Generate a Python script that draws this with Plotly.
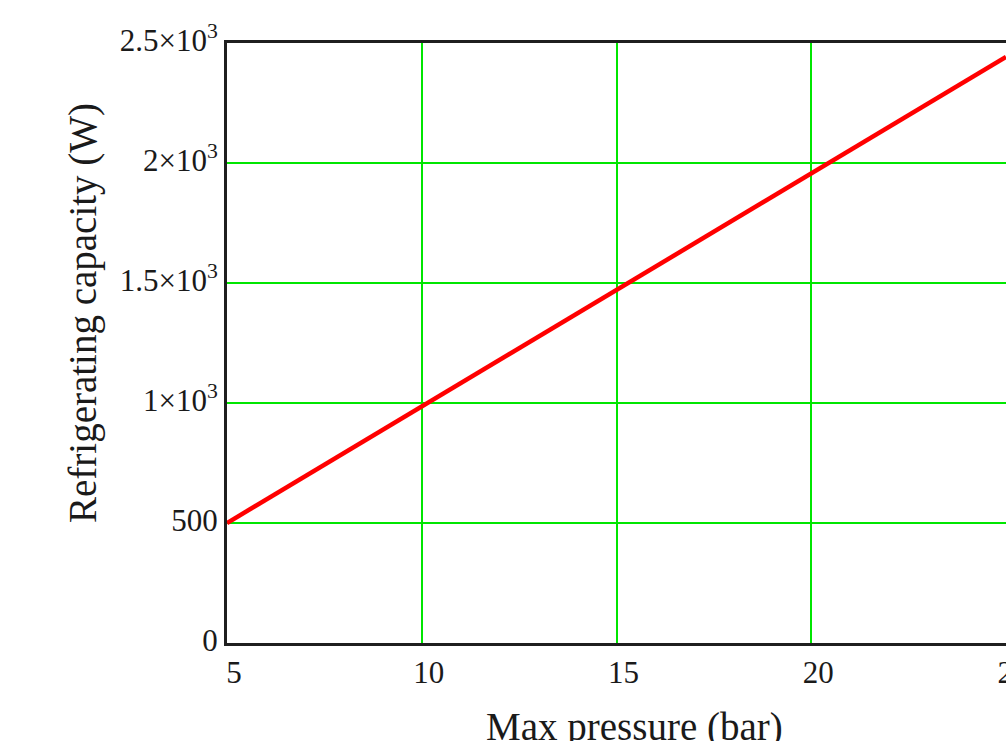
import plotly.graph_objects as go

# Data
pressure_bar = [5, 10, 15, 20, 25]
capacity_w = [500, 985, 1470, 1955, 2442]

x_ticks = [5, 10, 15, 20, 25]
x_ticktext = ["5", "10", "15", "20", "25"]
y_ticks = [0, 500, 1000, 1500, 2000, 2500]
y_ticktext = ["0", "500", "1×10<sup>3</sup>", "1.5×10<sup>3</sup>", "2×10<sup>3</sup>", "2.5×10<sup>3</sup>"]

FONT = "Liberation Serif, Times New Roman, serif"
GRID = "#00e600"
AXIS = "#1f1f1f"
TXT = "#1a1a1a"

fig = go.Figure()
fig.add_trace(go.Scatter(x=pressure_bar, y=capacity_w, mode="lines",
                         line=dict(color="#ff0000", width=4.5), showlegend=False))

fig.update_layout(
    width=1006, height=741,
    margin=dict(l=227, r=0, t=43, b=98, autoexpand=False),
    paper_bgcolor="white", plot_bgcolor="white",
    font=dict(family=FONT, size=31, color=TXT),
    xaxis=dict(range=[5, 25], tickvals=x_ticks, ticktext=x_ticktext,
               showgrid=True, gridcolor=GRID, gridwidth=2,
               showline=True, linecolor=AXIS, linewidth=3, mirror=True,
               zeroline=False, ticks="", ticklabelshift=7, ticklabelstandoff=0,
               ticklabeloverflow="allow", automargin=False,
               tickfont=dict(family=FONT, size=31, color=TXT)),
    yaxis=dict(range=[0, 2500], tickvals=y_ticks, ticktext=y_ticktext,
               showgrid=True, gridcolor=GRID, gridwidth=2,
               showline=True, linecolor=AXIS, linewidth=3, mirror=False,
               zeroline=False, ticks="", ticklabelstandoff=0, ticklabelshift=-3,
               automargin=False,
               tickfont=dict(family=FONT, size=31, color=TXT)),
    annotations=[
        dict(text="Max pressure (bar)", xref="paper", yref="paper",
             x=(634 - 227) / (1006 - 227), y=-(703 - 643) / 600,
             xanchor="center", yanchor="top", showarrow=False,
             font=dict(family=FONT, size=39, color=TXT)),
        dict(text="Refrigerating capacity (W)", xref="paper", yref="paper",
             x=-(227 - 83) / (1006 - 227), y=(643 - 313) / 600,
             xanchor="center", yanchor="middle", textangle=-90, showarrow=False,
             font=dict(family=FONT, size=39, color=TXT)),
    ],
)

fig.write_html("out.html")
